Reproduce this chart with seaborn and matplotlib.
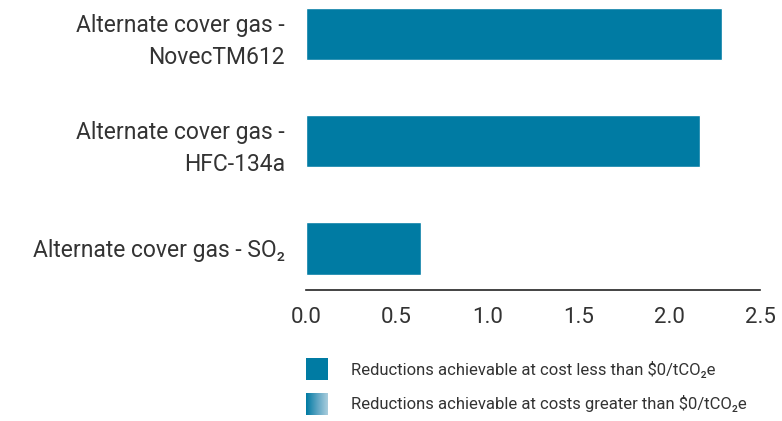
import numpy as np
import pandas as pd
import seaborn as sns
import matplotlib.pyplot as plt
from matplotlib.colors import LinearSegmentedColormap

# values
categories = ["Alternate cover gas -\nNovecTM612",
              "Alternate cover gas -\nHFC-134a",
              "Alternate cover gas - SO\u2082"]
reductions = [2.29, 2.17, 0.635]
x_ticks = [0.0, 0.5, 1.0, 1.5, 2.0, 2.5]
legend_labels = ["Reductions achievable at cost less than $0/tCO\u2082e",
                 "Reductions achievable at costs greater than $0/tCO\u2082e"]

teal = "#007ba3"
fonts = ["Roboto", "DejaVu Sans"]

sns.set_style("white")
plt.rcParams["font.family"] = fonts

df = pd.DataFrame({"category": categories, "value": reductions})

fig = plt.figure(figsize=(7.82, 4.21), dpi=100)
ax = fig.add_axes([0.391, 0.311, 0.581, 0.689])
sns.barplot(data=df, y="category", x="value", orient="h", color=teal,
            saturation=1, width=0.49, ax=ax)

ax.set_xlim(0, 2.5)
ax.set_ylim(2.39, -0.318)
ax.set_xticks(x_ticks)
ax.set_xticklabels([f"{t:.1f}" for t in x_ticks], fontsize=16, color="#333333")
ax.set_yticks(range(len(categories)))
ax.set_yticklabels(categories, fontsize=16.5, color="#333333", ha="right",
                   multialignment="right", linespacing=1.5)
ax.tick_params(axis="both", length=0)
ax.tick_params(axis="y", pad=15)
ax.tick_params(axis="x", pad=12)
ax.set_xlabel("")
ax.set_ylabel("")
for side in ["top", "right", "left"]:
    ax.spines[side].set_visible(False)
ax.spines["bottom"].set_color("#222222")
ax.spines["bottom"].set_linewidth(1.2)

# legend swatches drawn by hand (solid + gradient)
W, H = 782, 421
sw1 = fig.add_axes([306 / W, 1 - 380 / H, 22 / W, 22 / H])
sw1.set_facecolor(teal)
sw2 = fig.add_axes([306 / W, 1 - 415 / H, 22 / W, 22 / H])
grad = np.linspace(0, 1, 64).reshape(1, -1)
cmap = LinearSegmentedColormap.from_list("g", [teal, "#5aa3c2", "#a9cddd"])
sw2.imshow(grad, aspect="auto", cmap=cmap, extent=[0, 1, 0, 1])
for s in (sw1, sw2):
    s.set_xticks([])
    s.set_yticks([])
    for sp in s.spines.values():
        sp.set_visible(False)

fig.text(351 / W, 1 - 369 / H, legend_labels[0], fontsize=12,
         color="#333333", va="center", ha="left")
fig.text(351 / W, 1 - 404 / H, legend_labels[1], fontsize=12,
         color="#333333", va="center", ha="left")

fig.savefig("out.png", dpi=100)
